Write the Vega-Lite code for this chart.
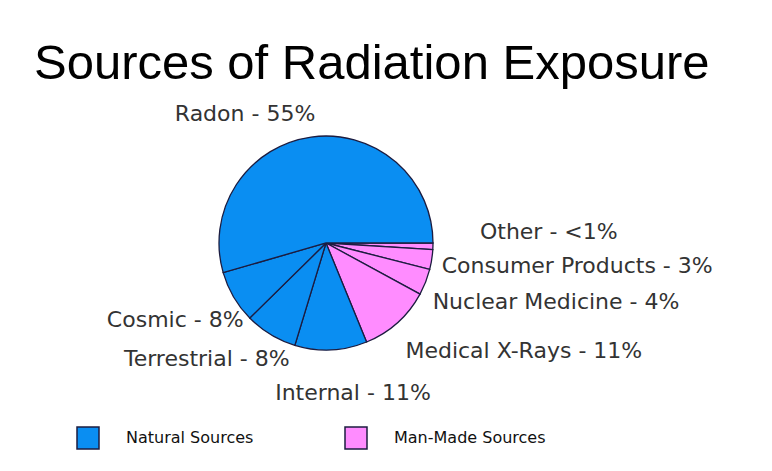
{
  "$schema": "https://vega.github.io/schema/vega-lite/v6.json",
  "width": 652,
  "height": 286,
  "autosize": {"type": "none"},
  "padding": {"left": 0, "top": 100, "right": 120, "bottom": 85},
  "background": "white",
  "title": {
    "text": "Sources of Radiation Exposure",
    "anchor": "start",
    "frame": "group",
    "dx": 34,
    "offset": 11,
    "font": "Liberation Sans",
    "fontSize": 49,
    "fontWeight": "normal",
    "color": "#000000"
  },
  "data": {
    "values": [
      {"name": "Other", "label": "Other - <1%", "value": 1, "group": "Man-Made Sources", "order": 1},
      {"name": "Consumer Products", "label": "Consumer Products - 3%", "value": 3, "group": "Man-Made Sources", "order": 2},
      {"name": "Nuclear Medicine", "label": "Nuclear Medicine - 4%", "value": 4, "group": "Man-Made Sources", "order": 3},
      {"name": "Medical X-Rays", "label": "Medical X-Rays - 11%", "value": 11, "group": "Man-Made Sources", "order": 4},
      {"name": "Internal", "label": "Internal - 11%", "value": 11, "group": "Natural Sources", "order": 5},
      {"name": "Terrestrial", "label": "Terrestrial - 8%", "value": 8, "group": "Natural Sources", "order": 6},
      {"name": "Cosmic", "label": "Cosmic - 8%", "value": 8, "group": "Natural Sources", "order": 7},
      {"name": "Radon", "label": "Radon - 55%", "value": 55, "group": "Natural Sources", "order": 8}
    ]
  },
  "encoding": {
    "theta": {"field": "value", "type": "quantitative", "stack": true, "scale": {"range": [1.5707963, 7.8539816]}},
    "order": {"field": "order", "type": "quantitative"}
  },
  "layer": [
    {
      "mark": {"type": "arc", "outerRadius": 107, "stroke": "#1c1c40", "strokeWidth": 1.3},
      "encoding": {
        "color": {
          "field": "group",
          "type": "nominal",
          "scale": {"domain": ["Natural Sources", "Man-Made Sources"], "range": ["#0a8ef2", "#ff8cff"]},
          "legend": {
            "orient": "none",
            "legendX": 76,
            "legendY": 326,
            "direction": "horizontal",
            "title": null,
            "symbolType": "square",
            "symbolSize": 484,
            "symbolStrokeColor": "#1c1c40",
            "symbolStrokeWidth": 1.5,
            "labelFont": "DejaVu Sans",
            "labelFontSize": 16,
            "labelColor": "#111111",
            "labelOffset": 26,
            "columnPadding": 88,
            "padding": 0,
            "labelLimit": 300
          }
        }
      }
    },
    {
      "mark": {"type": "text", "radius": 107, "dx": -66, "dy": -23, "align": "center", "baseline": "middle"},
      "encoding": {"text": {"condition": {"test": "datum.name === 'Radon'", "field": "label"}, "value": ""}}
    },
    {
      "mark": {"type": "text", "radius": 107, "dx": 47, "dy": -14, "align": "left", "baseline": "middle"},
      "encoding": {"text": {"condition": {"test": "datum.name === 'Other'", "field": "label"}, "value": ""}}
    },
    {
      "mark": {"type": "text", "radius": 107, "dx": 10, "dy": 6, "align": "left", "baseline": "middle"},
      "encoding": {"text": {"condition": {"test": "datum.name === 'Consumer Products'", "field": "label"}, "value": ""}}
    },
    {
      "mark": {"type": "text", "radius": 107, "dx": 7, "dy": 20, "align": "left", "baseline": "middle"},
      "encoding": {"text": {"condition": {"test": "datum.name === 'Nuclear Medicine'", "field": "label"}, "value": ""}}
    },
    {
      "mark": {"type": "text", "radius": 107, "dx": 8, "dy": 28, "align": "left", "baseline": "middle"},
      "encoding": {"text": {"condition": {"test": "datum.name === 'Medical X-Rays'", "field": "label"}, "value": ""}}
    },
    {
      "mark": {"type": "text", "radius": 107, "dx": 22, "dy": 43, "align": "center", "baseline": "middle"},
      "encoding": {"text": {"condition": {"test": "datum.name === 'Internal'", "field": "label"}, "value": ""}}
    },
    {
      "mark": {"type": "text", "radius": 107, "dx": 19, "dy": 24, "align": "right", "baseline": "middle"},
      "encoding": {"text": {"condition": {"test": "datum.name === 'Terrestrial'", "field": "label"}, "value": ""}}
    },
    {
      "mark": {"type": "text", "radius": 107, "dx": 10, "dy": 23, "align": "right", "baseline": "middle"},
      "encoding": {"text": {"condition": {"test": "datum.name === 'Cosmic'", "field": "label"}, "value": ""}}
    }
  ],
  "config": {
    "view": {"stroke": null},
    "text": {"font": "DejaVu Sans", "fontSize": 22, "fill": "#333333"}
  }
}
